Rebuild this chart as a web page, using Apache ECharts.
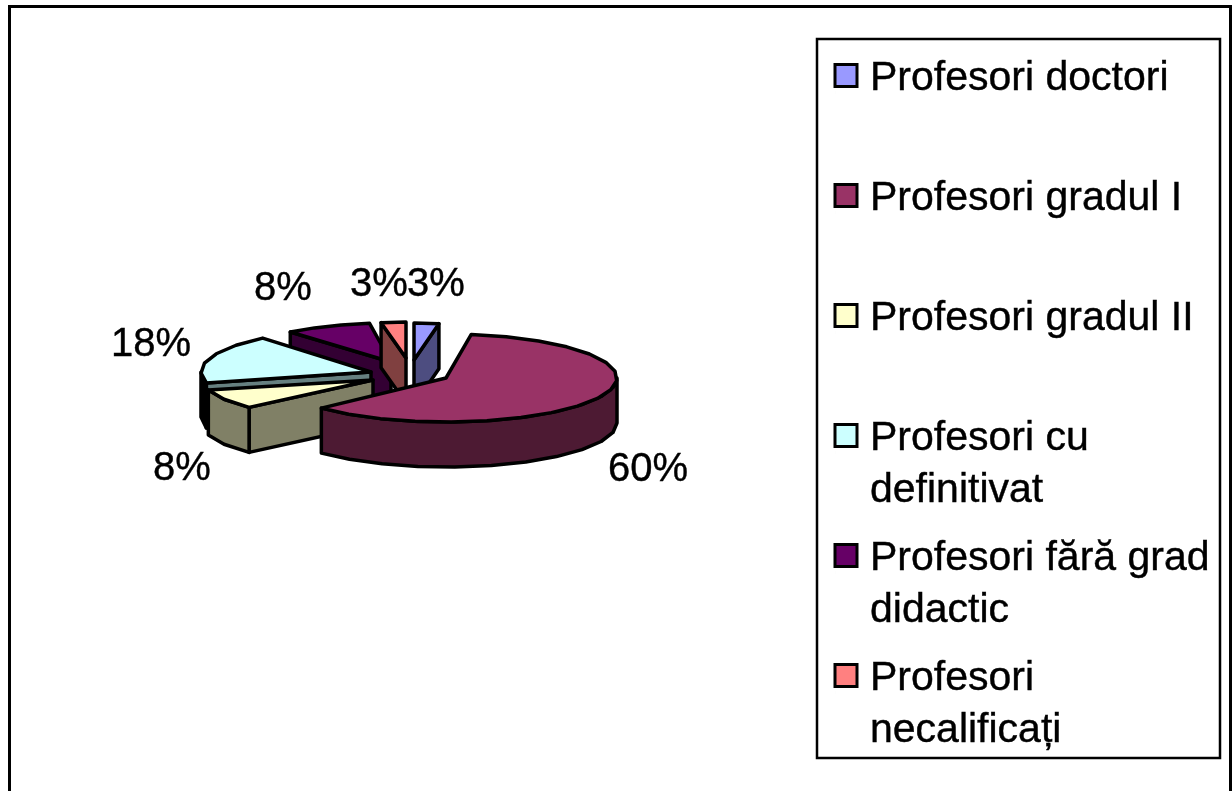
<!DOCTYPE html>
<html><head><meta charset="utf-8">
<style>html,body{margin:0;padding:0;background:#fff}#c{width:1232px;height:791px}</style>
<script src="https://cdn.jsdelivr.net/npm/echarts@6/dist/echarts.min.js"></script>
</head><body><div id="c"></div>
<script>
const categories = ['Profesori doctori','Profesori gradul I','Profesori gradul II','Profesori cu\ndefinitivat','Profesori fără grad\ndidactic','Profesori\nnecalificați'];
const values = [3,60,8,18,8,3];
const labels = ['3%','60%','8%','18%','8%','3%'];
const topColors = ['#9999FF','#993366','#FFFFCC','#CCFFFF','#660066','#FF8080'];
const sideColors = ['#4D4D80','#4D1A33','#808066','#668080','#330033','#804040'];
const rimColors = ['#4D4D80','#4D1A33','#808066','#000000','#330033','#804040'];

// layout only: where each exploded slice sits, its projected radii, label spot
const slices = [
 {px:414,py:360,rx:133,ry:37,s0:0,s1:0,lx:436,ly:285,order:2},
 {px:446,py:378,rx:171,ry:44,s0:-2.3,s1:0,lx:648,ly:470,order:5},
 {px:373,py:380,rx:170,ry:40,s0:0,s1:0,lx:182,ly:469,order:4},
 {px:371,py:372,rx:170,ry:44,s0:0,s1:0,lx:151,ly:345,order:3},
 {px:391,py:362,rx:158,ry:39,s0:0,s1:3,lx:283,ly:289,order:0},
 {px:406,py:358,rx:133,ry:36,s0:0,s1:0,lx:379,ly:285,order:1}
];
const legendCenters = [78.5,198.5,318.5,438.5,558.5,678.5];
const legendIcon = 'path://M0 0H22V22H0ZM0 28L0.01 28';
const DEPTH = 45, STEP = 12, LINE = 52, FONT = 'Liberation Sans, Arial, sans-serif';
const total = values.reduce((a,b)=>a+b,0);

function renderSlice(i){
  return function(params, api){
    const v = api.value(0);
    let before = 0; for(let k=0;k<i;k++) before += values[k];
    const L = slices[i];
    const a0 = before/total*360 + L.s0, a1 = (before+v)/total*360 + L.s1;
    const pt = d => { const t=d*Math.PI/180; return [L.px+L.rx*Math.sin(t), L.py-L.ry*Math.cos(t)]; };
    const down = p => [p[0],p[1]+DEPTH];
    const arc = (x0,x1) => { const r=[]; const n=Math.max(1,Math.round((x1-x0)/STEP)); for(let k=0;k<=n;k++) r.push(pt(x0+(x1-x0)*k/n)); return r; };
    const apex=[L.px,L.py];
    const st = (fill)=>({fill, stroke:'#000', lineWidth:3.5, lineJoin:'round'});
    const children=[];
    const sin0=Math.sin(a0*Math.PI/180), sin1=Math.sin(a1*Math.PI/180);
    if(sin0<0){ const e=pt(a0); children.push({type:'polygon',shape:{points:[apex,e,down(e),down(apex)]},style:st(sideColors[i])}); }
    if(sin1>0){ const e=pt(a1); children.push({type:'polygon',shape:{points:[apex,e,down(e),down(apex)]},style:st(sideColors[i])}); }
    const f0=Math.max(a0,90), f1=Math.min(a1,270);
    if(f1>f0){ const up=arc(f0,f1); children.push({type:'polygon',shape:{points:up.concat(up.map(down).reverse())},style:st(rimColors[i])}); }
    children.push({type:'polygon',shape:{points:[apex].concat(arc(a0,a1))},style:st(topColors[i])});
    children.push({type:'text',style:{text:labels[i],x:L.lx,y:L.ly,fill:'#000',font:'40px '+FONT,align:'center',verticalAlign:'middle',stroke:'#000',lineWidth:0.4}});
    return {type:'group',children};
  };
}

const series = categories.map((name,i)=>({
  type:'custom', name, coordinateSystem:'none', z:2+slices[i].order, silent:true, animation:false,
  itemStyle:{color:topColors[i]}, data:[[values[i]]], renderItem:renderSlice(i)
}));

const legends = categories.map((name,i)=>{
  const two = name.indexOf('\n')>=0;
  return {
    show:true, data:[{name,icon:legendIcon,itemStyle:{color:topColors[i],borderColor:'#000',borderWidth:3}}],
    orient:'vertical', left:833.5, top:legendCenters[i]-(two?1.5*LINE:LINE/2), padding:0, selectedMode:false,
    itemWidth:22, itemHeight:28,
    formatter: n => two ? '\n'+n : n,
    textStyle:{fontFamily:FONT,fontSize:41,color:'#000',lineHeight:LINE,padding:[0,0,0,8],textBorderColor:'#000',textBorderWidth:0.4}
  };
});

const chart = echarts.init(document.getElementById('c'),null,{renderer:'canvas'});
chart.setOption({
  animation:false, backgroundColor:'#fff',
  legend:legends, series,
  graphic:[
    {type:'rect',z:0,shape:{x:9.5,y:6.5,width:1221,height:820},style:{fill:'#fff',stroke:'#000',lineWidth:3}},
    {type:'rect',z:0,shape:{x:817,y:39,width:403,height:719},style:{fill:'#fff',stroke:'#000',lineWidth:2.5}}
  ]
});
</script></body></html>
